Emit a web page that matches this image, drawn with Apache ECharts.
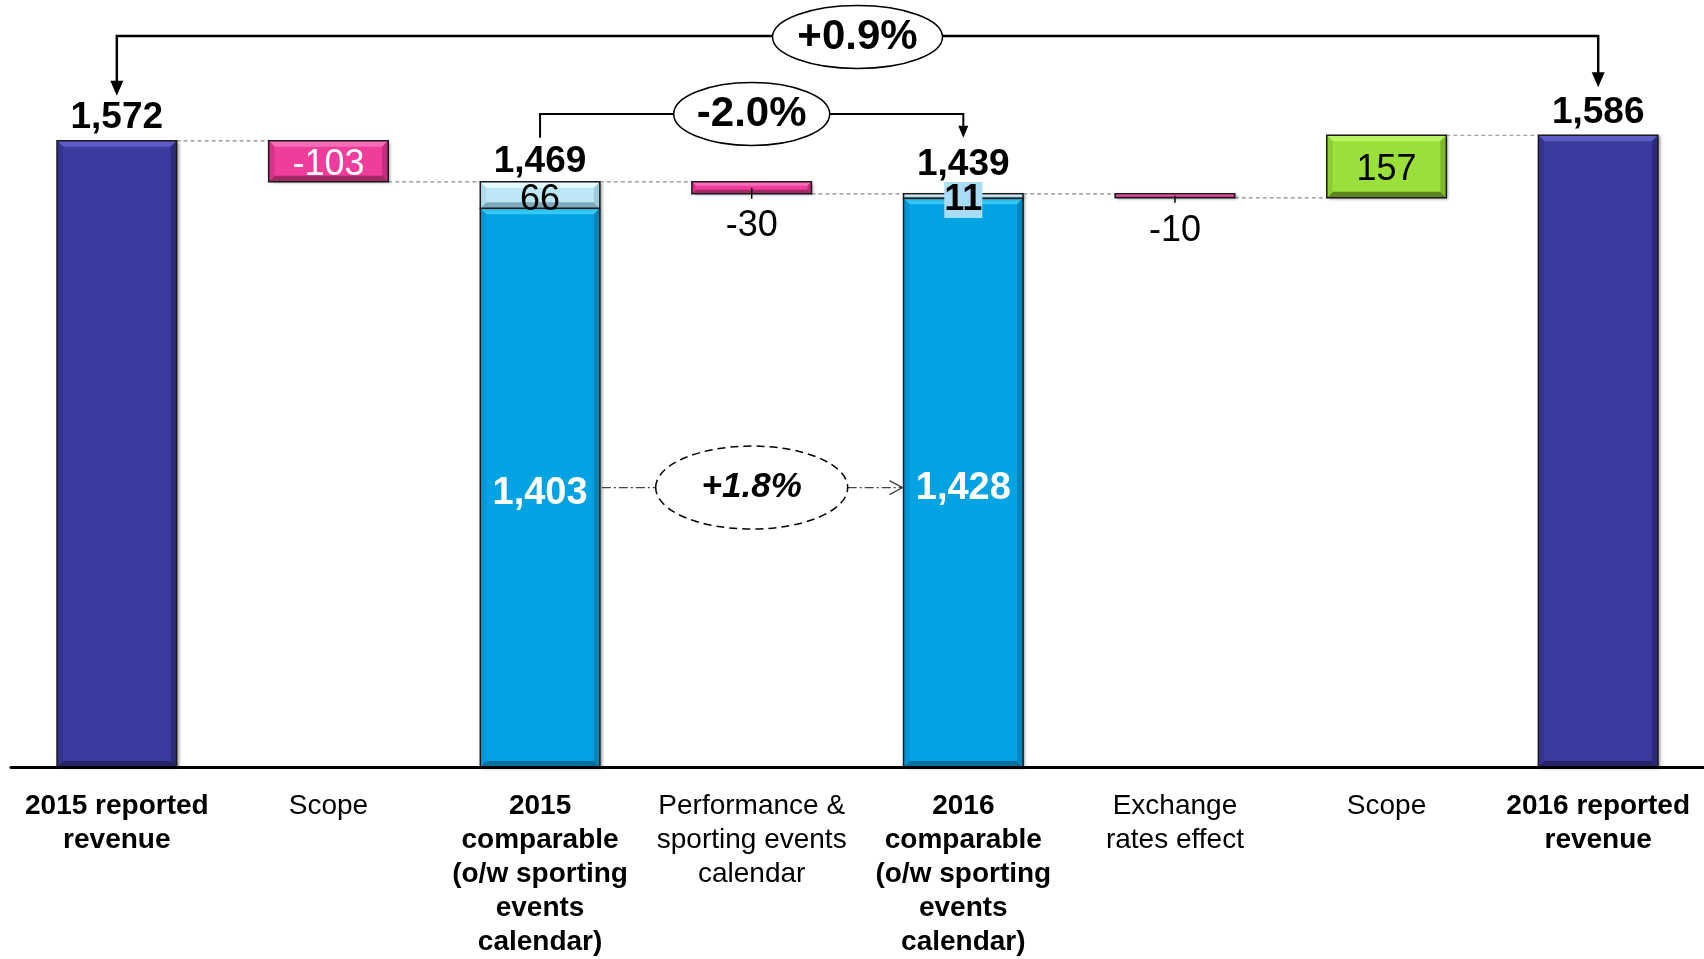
<!DOCTYPE html>
<html><head><meta charset="utf-8">
<script src="https://cdn.jsdelivr.net/npm/echarts@6/dist/echarts.min.js"></script>
<style>html,body{margin:0;padding:0;background:#fff}#c{width:1704px;height:959px}</style>
</head><body><div id="c"></div>
<script>
// ---------- data ----------
const categories = [
  '2015 reported\nrevenue',
  'Scope',
  '2015\ncomparable\n(o/w sporting\nevents\ncalendar)',
  'Performance &\nsporting events\ncalendar',
  '2016\ncomparable\n(o/w sporting\nevents\ncalendar)',
  'Exchange\nrates effect',
  'Scope',
  '2016 reported\nrevenue'
];
const boldCategory   = [true, false, true, false, true, false, false, true];
const totals         = [1572, null, 1469, null, 1439, null, null, 1586];
const changes        = [null, -103, null, -30, null, -10, 157, null];
const comparableBase = [null, null, 1403, null, 1428, null, null, null];
const calendarEffect = [null, null, 66, null, 11, null, null, null];
const growthReported   = '+0.9%';
const growthComparable = '-2.0%';
const growthOrganic    = '+1.8%';

// ---------- derived ----------
const FONT = "'Liberation Sans', Arial, sans-serif";
const BAR_RATIO = 0.565;
const levels = [];
let lvl = 0;
categories.forEach((_, i) => {
  if (totals[i] != null) lvl = totals[i]; else lvl += changes[i];
  levels.push(lvl);
});
const baseVals = categories.map((_, i) => changes[i] != null ? Math.min(levels[i], levels[i] - changes[i]) : 0);
const mainVals = categories.map((_, i) => changes[i] != null ? Math.abs(changes[i]) :
  (comparableBase[i] != null ? comparableBase[i] : totals[i]));
const fmt = v => Number(v).toLocaleString('en-US');

const KINDS = ['reported', 'comparable', 'negative', 'positive', 'calendar'];
const PALETTE = {
  reported:   { main: '#3B3B9F', top: '#5B5BC6', bottom: '#25256B', side: '#34348F', sideR: '#2B2B7A' },
  comparable: { main: '#02A3E3', top: '#35C9F8', bottom: '#04709E', side: '#0396D2', sideR: '#0384BA' },
  negative:   { main: '#EE3D9A', top: '#F76CB8', bottom: '#9E2A64', side: '#D93389', sideR: '#C42D7B' },
  positive:   { main: '#9BE03A', top: '#B8F263', bottom: '#5E8420', side: '#8DCE32', sideR: '#7EB82C' },
  calendar:   { main: '#BDE7F6', top: '#E6FAFF', bottom: '#7FA9BA', side: '#AEDCEC', sideR: '#9CCBDD' }
};
const TRANSPARENT = 'rgba(0,0,0,0)';

// segments for the bevelled bars: [category, low, high, kindIndex]
const segments = [];
categories.forEach((_, i) => {
  if (changes[i] != null) {
    segments.push([i, baseVals[i], baseVals[i] + Math.abs(changes[i]), KINDS.indexOf(changes[i] < 0 ? 'negative' : 'positive')]);
  } else if (comparableBase[i] != null) {
    segments.push([i, 0, comparableBase[i], KINDS.indexOf('comparable')]);
    segments.push([i, comparableBase[i], comparableBase[i] + calendarEffect[i], KINDS.indexOf('calendar')]);
  } else {
    segments.push([i, 0, totals[i], KINDS.indexOf('reported')]);
  }
});

// label carriers (stacked, transparent bars)
const mainData = mainVals.map((v, i) => {
  let label;
  if (changes[i] != null) {
    const big = Math.abs(changes[i]) > 50;
    label = {
      show: true, position: big ? 'inside' : 'bottom', distance: big ? 5 : (i === 3 ? 14 : 15),
      offset: big ? [0, 4] : [0, 0],
      color: big && changes[i] < 0 ? '#fff' : '#000',
      fontSize: 36, fontFamily: FONT,
      formatter: String(changes[i])
    };
  } else if (comparableBase[i] != null) {
    label = { show: true, position: 'inside', offset: [0, 6], color: '#fff', fontWeight: 'bold',
      fontSize: 38, fontFamily: FONT, formatter: fmt(v) };
  } else {
    label = { show: false };
  }
  return { value: v, label };
});

const calData = calendarEffect.map(v => {
  if (v == null) return '-';
  const thin = v < 30;
  return {
    value: v,
    label: {
      show: true, position: 'inside', color: '#000', fontSize: 36, fontFamily: FONT,
      offset: [0, thin ? 4 : 5],
      fontWeight: thin ? 'bold' : 'normal',
      backgroundColor: thin ? '#A9DCF5' : 'transparent',
      formatter: String(v)
    }
  };
});

const totalDistance = i => calendarEffect[i] == null ? (i === 0 ? 5 : 4) : (calendarEffect[i] < 30 ? 11 : 2);
const totalData = totals.map((v, i) => v == null ? null : {
  value: [i, v], label: { distance: totalDistance(i) }
}).filter(d => d);

const connectorData = levels.slice(0, -1).map((l, i) => [i, l]);

const chart = echarts.init(document.getElementById('c'), null, { renderer: 'canvas' });
const option = {
  animation: false,
  backgroundColor: '#fff',
  grid: { left: 11, right: 0, top: 50, bottom: 190, containLabel: false },
  xAxis: {
    type: 'category',
    data: categories.map((c, i) => ({ value: c, textStyle: { fontWeight: boldCategory[i] ? 'bold' : 'normal' } })),
    axisLine: { lineStyle: { color: '#000', width: 3 } },
    axisTick: { show: false },
    axisLabel: { interval: 0, color: '#000', fontSize: 28, lineHeight: 34, fontFamily: FONT, margin: 22 },
    z: 10
  },
  yAxis: { type: 'value', min: 0, max: 1800, show: false, splitLine: { show: false } },
  series: [
    { type: 'custom', data: connectorData, z: 1, silent: true,
      renderItem: (params, api) => {
        const p = api.coord([api.value(0), api.value(1)]);
        const cw = api.size([1, 0])[0];
        const bw = cw * BAR_RATIO;
        return { type: 'line',
          shape: { x1: p[0] + bw / 2, y1: p[1], x2: p[0] + cw - bw / 2, y2: p[1] },
          style: { stroke: '#8a8a8a', lineWidth: 1.2, lineDash: [4, 3] } };
      } },
    { type: 'custom', data: segments, z: 2, encode: { x: 0, y: [1, 2] },
      renderItem: (params, api) => {
        const i = api.value(0), lo = api.value(1), hi = api.value(2);
        const P = PALETTE[KINDS[api.value(3)]];
        const pt = api.coord([i, hi]), pb = api.coord([i, lo]);
        const w = api.size([1, 0])[0] * BAR_RATIO;
        const l = pt[0] - w / 2, r = pt[0] + w / 2, t = pt[1], b = pb[1];
        const h = b - t;
        const bv = Math.min(6, h / 3);
        return { type: 'group', children: [
          { type: 'rect', shape: { x: l, y: t, width: w, height: h },
            style: { fill: P.main, shadowColor: 'rgba(0,0,0,0.45)', shadowBlur: 3, shadowOffsetX: 2, shadowOffsetY: 1 } },
          { type: 'polygon', shape: { points: [[l, t], [r, t], [r - bv, t + bv], [l + bv, t + bv]] }, style: { fill: P.top } },
          { type: 'polygon', shape: { points: [[l, b], [r, b], [r - bv, b - bv], [l + bv, b - bv]] }, style: { fill: P.bottom } },
          { type: 'polygon', shape: { points: [[l, t], [l + bv, t + bv], [l + bv, b - bv], [l, b]] }, style: { fill: P.side } },
          { type: 'polygon', shape: { points: [[r, t], [r - bv, t + bv], [r - bv, b - bv], [r, b]] }, style: { fill: P.sideR } },
          { type: 'rect', shape: { x: l, y: t, width: w, height: h }, style: { fill: null, stroke: '#1a1a1a', lineWidth: 1.5 } }
        ] };
      } },
    { type: 'bar', stack: 'w', data: baseVals, barWidth: (BAR_RATIO * 100) + '%', z: 3,
      itemStyle: { color: TRANSPARENT }, silent: true },
    { type: 'bar', stack: 'w', data: mainData, barWidth: (BAR_RATIO * 100) + '%', z: 3,
      itemStyle: { color: TRANSPARENT } },
    { type: 'bar', stack: 'w', data: calData, barWidth: (BAR_RATIO * 100) + '%', z: 3,
      itemStyle: { color: TRANSPARENT } },
    { type: 'scatter', data: totalData, symbolSize: 0, z: 5, itemStyle: { opacity: 1 },
      label: { show: true, position: 'top', color: '#000', fontWeight: 'bold', fontSize: 37,
        fontFamily: FONT, formatter: p => fmt(p.value[1]) } }
  ]
};
chart.setOption(option);

// ---------- annotations ----------
const px = (i, v) => chart.convertToPixel({ gridIndex: 0 }, [i, v]);
const cw = px(1, 0)[0] - px(0, 0)[0];
const bw = cw * BAR_RATIO;
const g = [];
function arrowDown(x, tip, w, h) {
  g.push({ type: 'polygon', z: 100, shape: { points: [[x - w / 2, tip - h], [x + w / 2, tip - h], [x, tip]] },
    style: { fill: '#000' } });
}
function bubble(cx, cy, rx, ry, text, font, dashed) {
  g.push({ type: 'ellipse', z: 100, shape: { cx, cy, rx, ry },
    style: { fill: '#fff', stroke: '#000', lineWidth: 1.5, lineDash: dashed ? [8, 5] : null } });
  g.push({ type: 'text', z: 101, x: cx, y: cy,
    style: { text, font, fill: '#000', align: 'center', verticalAlign: 'middle',
      textAlign: 'center', textVerticalAlign: 'middle' } });
}
// big bracket +0.9%
const first = 0, last = categories.length - 1;
const x0 = px(first, 0)[0], x7 = px(last, 0)[0];
const tipL = px(first, totals[first])[1] - 45;
const tipR = px(last, totals[last])[1] - 48;
const yBig = 36;
g.push({ type: 'polyline', z: 100, shape: { points: [[x0, tipL - 14], [x0, yBig], [x7, yBig], [x7, tipR - 14]] },
  style: { stroke: '#000', lineWidth: 2.5, fill: null } });
arrowDown(x0, tipL, 13, 15);
arrowDown(x7, tipR, 13, 15);
bubble((x0 + x7) / 2, 37, 85, 31.5, growthReported, 'bold 42px ' + FONT, false);

// comparable bracket -2.0%
const x2 = px(2, 0)[0], x4 = px(4, 0)[0];
const yMid = 114;
const leftEnd = px(2, totals[2])[1] - 44;
const tipC = px(4, totals[4])[1] - 56;
g.push({ type: 'polyline', z: 100, shape: { points: [[x2, leftEnd], [x2, yMid], [x4, yMid], [x4, tipC - 11]] },
  style: { stroke: '#000', lineWidth: 2, fill: null } });
arrowDown(x4, tipC, 10, 12);
bubble((x2 + x4) / 2, yMid, 78, 31.5, growthComparable, 'bold 42px ' + FONT, false);

// organic +1.8%
const yO = px(2, comparableBase[2] / 2)[1];
const cxO = (x2 + x4) / 2, rxO = 96, ryO = 41.5;
const dashDot = { stroke: '#444', lineWidth: 1.3, lineDash: [9, 3, 2, 3] };
g.push({ type: 'line', z: 100, shape: { x1: x2 + bw / 2 + 2, y1: yO, x2: cxO - rxO, y2: yO }, style: dashDot });
g.push({ type: 'line', z: 100, shape: { x1: cxO + rxO, y1: yO, x2: x4 - bw / 2 - 1, y2: yO }, style: dashDot });
g.push({ type: 'polyline', z: 100, shape: { points: [[x4 - bw / 2 - 14, yO - 7], [x4 - bw / 2 - 1, yO], [x4 - bw / 2 - 14, yO + 7]] },
  style: { stroke: '#444', lineWidth: 1.3, fill: null } });
bubble(cxO, yO, rxO, ryO, growthOrganic, 'italic bold 35px ' + FONT, true);

// small leader ticks on thin change boxes
changes.forEach((c, i) => {
  if (c == null || Math.abs(c) > 50) return;
  const top = px(i, Math.max(levels[i], levels[i] - c))[1];
  const bot = px(i, Math.min(levels[i], levels[i] - c))[1];
  const x = px(i, 0)[0];
  g.push({ type: 'line', z: 100, shape: { x1: x, y1: (top + bot) / 2, x2: x, y2: bot + 5 },
    style: { stroke: '#000', lineWidth: 1.5 } });
});
chart.setOption({ graphic: { elements: g } });
</script>
</body></html>
